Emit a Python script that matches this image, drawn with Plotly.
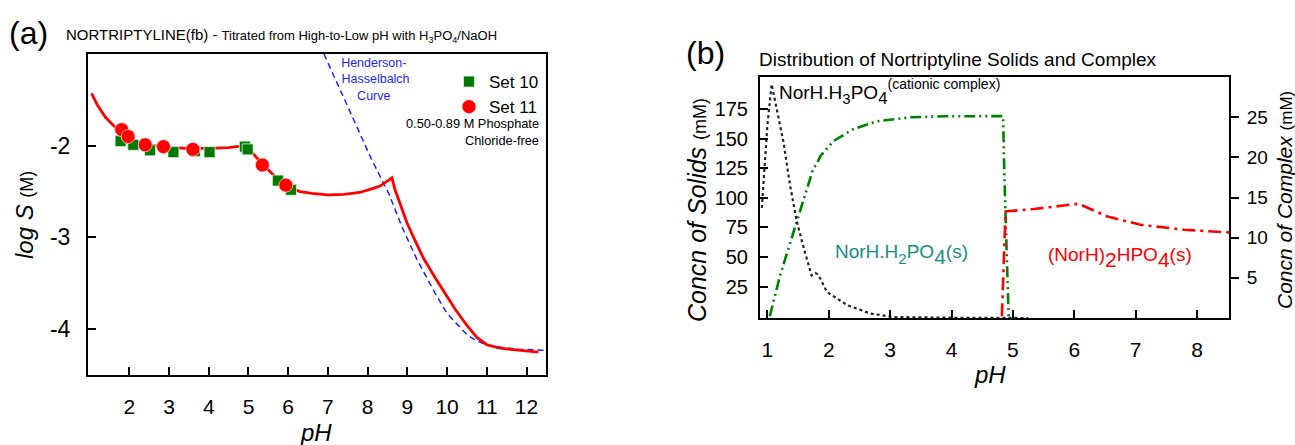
import plotly.graph_objects as go

W, H = 1295, 445
FONT = "Liberation Sans, Arial, sans-serif"

# ---------------- Panel (a) data ----------------
model_ph = [1.05, 1.2, 1.4, 1.6, 1.8, 2.0, 2.2, 2.5, 3.0, 3.5, 4.0, 4.5, 4.9, 5.0, 5.35, 5.7, 6.0,
            6.3, 6.6, 7.0, 7.4, 7.8, 8.1, 8.31, 8.45, 8.61, 8.69, 8.8, 8.99, 9.2, 9.41, 9.7, 9.95,
            10.2, 10.5, 10.75, 11.0, 11.3, 11.59, 12.0, 12.3]
model_logs = [-1.43, -1.56, -1.69, -1.78, -1.85, -1.91, -1.96, -1.99, -2.02, -2.03, -2.03, -2.02, -2.0, -2.03, -2.2, -2.35, -2.45,
              -2.5, -2.52, -2.535, -2.53, -2.51, -2.47, -2.44, -2.40, -2.35, -2.48, -2.62, -2.84, -3.04, -3.23, -3.44, -3.61,
              -3.78, -3.96, -4.09, -4.17, -4.205, -4.22, -4.24, -4.25]

hh_ph = [6.9, 7.5, 8.1, 8.53, 8.86, 9.24, 9.7, 10.0, 10.29, 10.5, 10.75, 11.0, 11.2, 11.8, 12.5]
hh_logs = [-1.0, -1.58, -2.15, -2.52, -2.88, -3.24, -3.61, -3.83, -3.97, -4.06, -4.13, -4.17, -4.19, -4.22, -4.23]

set10_ph = [1.78, 2.10, 2.52, 3.11, 3.65, 4.02, 4.91, 4.98, 5.74, 6.07]
set10_logs = [-1.95, -1.99, -2.05, -2.07, -2.06, -2.07, -2.01, -2.04, -2.38, -2.48]

set11_ph = [1.81, 1.97, 2.40, 2.86, 3.60, 5.35, 5.94]
set11_logs = [-1.825, -1.90, -1.99, -2.01, -2.04, -2.21, -2.43]

a_xticks = [2, 3, 4, 5, 6, 7, 8, 9, 10, 11, 12]
a_yticks = [-2, -3, -4]
a_yticktext = ["-2", "-3", "-4"]

# ---------------- Panel (b) data ----------------
h2po4_ph = [1.04, 1.21, 1.48, 1.75, 1.80, 1.86, 2.08, 2.40, 2.78, 3.33, 3.87, 4.4, 4.84, 4.86, 4.90, 4.93]
h2po4_mm = [0, 35, 80, 125, 128, 135, 148, 158, 164.6, 168, 168.8, 169, 169, 120, 60, 0]

hpo4_ph = [4.82, 4.86, 4.88, 5.34, 6.07, 6.54, 7.08, 7.79, 8.55]
hpo4_mm = [0, 60, 88.5, 90.5, 95, 84.2, 77.2, 73, 70.7]

cplx_ph = [0.91, 0.95, 1.0, 1.07, 1.15, 1.26, 1.37, 1.48, 1.6, 1.72, 1.78, 1.83, 1.97, 2.3, 2.68, 3.06, 4.0, 5.25]
cplx_mm = [13.7, 18, 24, 29.1, 26, 22, 16.5, 12, 8.5, 5.3, 5.6, 5.4, 3.25, 1.6, 0.55, 0.12, 0.03, 0]

b_xticks = [1, 2, 3, 4, 5, 6, 7, 8]
b_yticks_left = [25, 50, 75, 100, 125, 150, 175]
b_yticks_right = [5, 10, 15, 20, 25]


def px(x):
    return x / W


def py(y):
    return 1 - y / H


fig = go.Figure()

# Panel (a)
fig.add_trace(go.Scatter(x=hh_ph, y=hh_logs, mode="lines", xaxis="x", yaxis="y",
                         line=dict(color="#1f1fff", width=1.5, dash="6px,4px"), showlegend=False))
fig.add_trace(go.Scatter(x=model_ph, y=model_logs, mode="lines", xaxis="x", yaxis="y",
                         line=dict(color="#ff0000", width=2.8), showlegend=False))
fig.add_trace(go.Scatter(x=set10_ph, y=set10_logs, mode="markers", xaxis="x", yaxis="y", name="Set 10",
                         marker=dict(symbol="square", size=11, color="#007a00",
                                     line=dict(color="#e8f4e8", width=0.8))))
fig.add_trace(go.Scatter(x=set11_ph, y=set11_logs, mode="markers", xaxis="x", yaxis="y", name="Set 11",
                         marker=dict(symbol="circle", size=14, color="#ff0000",
                                     line=dict(color="#ffd0d0", width=0.8))))

# Panel (b)
fig.add_trace(go.Scatter(x=cplx_ph, y=cplx_mm, mode="lines", xaxis="x2", yaxis="y3",
                         line=dict(color="#222222", width=2.2, dash="dot"), showlegend=False))
fig.add_trace(go.Scatter(x=h2po4_ph, y=h2po4_mm, mode="lines", xaxis="x2", yaxis="y2",
                         line=dict(color="#008000", width=2.6, dash="11px,4px,2px,4px,2px,4px"), showlegend=False))
fig.add_trace(go.Scatter(x=hpo4_ph, y=hpo4_mm, mode="lines", xaxis="x2", yaxis="y2",
                         line=dict(color="#ff0000", width=2.6, dash="13px,5px,3px,5px"), showlegend=False))

axis_common = dict(showgrid=False, zeroline=False, showline=True, linecolor="black", linewidth=2,
                   ticks="inside", tickcolor="black", tickwidth=2, ticklen=8)

fig.update_layout(
    width=W, height=H,
    margin=dict(l=0, r=0, t=0, b=0),
    paper_bgcolor="white", plot_bgcolor="white",
    font=dict(family=FONT, color="black"),
    xaxis=dict(domain=[px(88), px(546)], range=[0.96, 12.49], tickvals=a_xticks, mirror=True,
               tickfont=dict(size=21), ticklabelstandoff=12, anchor="y", **axis_common),
    yaxis=dict(domain=[py(375), py(54)], range=[-4.5, -1.0], tickvals=a_yticks, ticktext=a_yticktext,
               mirror=True, tickfont=dict(size=23), ticklabelstandoff=11, anchor="x", **axis_common),
    xaxis2=dict(domain=[px(760), px(1229)], range=[0.88, 8.52], tickvals=b_xticks, mirror=True,
                tickfont=dict(size=21), ticklabelstandoff=12, anchor="y2", **axis_common),
    yaxis2=dict(domain=[py(318), py(77)], range=[-1.5, 202], tickvals=b_yticks_left, mirror=False,
                tickfont=dict(size=20), ticklabelstandoff=6, anchor="x2", **axis_common),
    yaxis3=dict(domain=[py(318), py(77)], range=[0, 30], tickvals=b_yticks_right, overlaying="y2",
                side="right", anchor="x2", showgrid=False, zeroline=False, showline=True,
                linecolor="black", linewidth=2, ticks="outside", tickcolor="black", tickwidth=2,
                ticklen=8, tickfont=dict(size=19), ticklabelstandoff=4),
    legend=dict(x=px(449), y=py(64), xanchor="left", yanchor="top", bgcolor="rgba(0,0,0,0)",
                font=dict(size=17, family=FONT), tracegroupgap=0, itemwidth=30),
    showlegend=True,
)

ann = []


def add(text, x, y, size, color="black", xanchor="center", yanchor="middle", textangle=0, align="center"):
    ann.append(dict(text=text, x=px(x), y=py(y), xref="paper", yref="paper", showarrow=False,
                    font=dict(size=size, color=color, family=FONT), xanchor=xanchor, yanchor=yanchor,
                    textangle=textangle, align=align))


def s(t, size):
    return "<span style='font-size:%dpx'>%s</span>" % (size, t)


add("(a)", 7, 33, 32, xanchor="left")
add(s("NORTRIPTYLINE(fb) - ", 15) + "Titrated from High-to-Low pH with H<sub>3</sub>PO<sub>4</sub>/NaOH",
    64, 36, 13, xanchor="left")
add("Henderson-<br> Hasselbalch<br>Curve", 374, 79, 12.5, color="#1f1fff")
add("0.50-0.89 M Phosphate", 541, 123, 12.8, xanchor="right")
add("Chloride-free", 541, 140, 12.8, xanchor="right")
add("<i>pH</i>", 316, 432, 24)
add("<i>log S</i> <span style='font-size:18px'>(M)</span>", 24, 215, 24, textangle=-90)

add("(b)", 684, 53, 32, xanchor="left")
add("Distribution of Nortriptyline Solids and Complex", 757, 59, 19, xanchor="left")
add(s("NorH.H", 19) + "<sub>" + s("3", 15) + "</sub>" + s("PO", 19) + "<sub>4</sub>"
    + "<sup>" + s("(cationic complex)", 14) + "</sup>",
    777, 92, 24, xanchor="left")
add(s("NorH.H", 19) + "<sub>" + s("2", 15) + "</sub>" + s("PO", 19) + "<sub>4</sub>" + s("(s)", 19),
    901, 255, 30, color="#13907f")
add(s("(NorH)", 19) + "<sub>2</sub>" + s("HPO", 19) + "<sub>4</sub>" + s("(s)", 19),
    1120, 257, 30, color="#ff0000")
add("<i>pH</i>", 990, 374, 24)
add("<i>Concn of Solids</i> <span style='font-size:18px'>(mM)</span>", 697, 210, 25, textangle=-90)
add("<i>Concn of Complex</i> <span style='font-size:17px'>(mM)</span>", 1284, 200, 21, textangle=-90)

fig.update_layout(annotations=ann)

fig.write_html("out.html")
